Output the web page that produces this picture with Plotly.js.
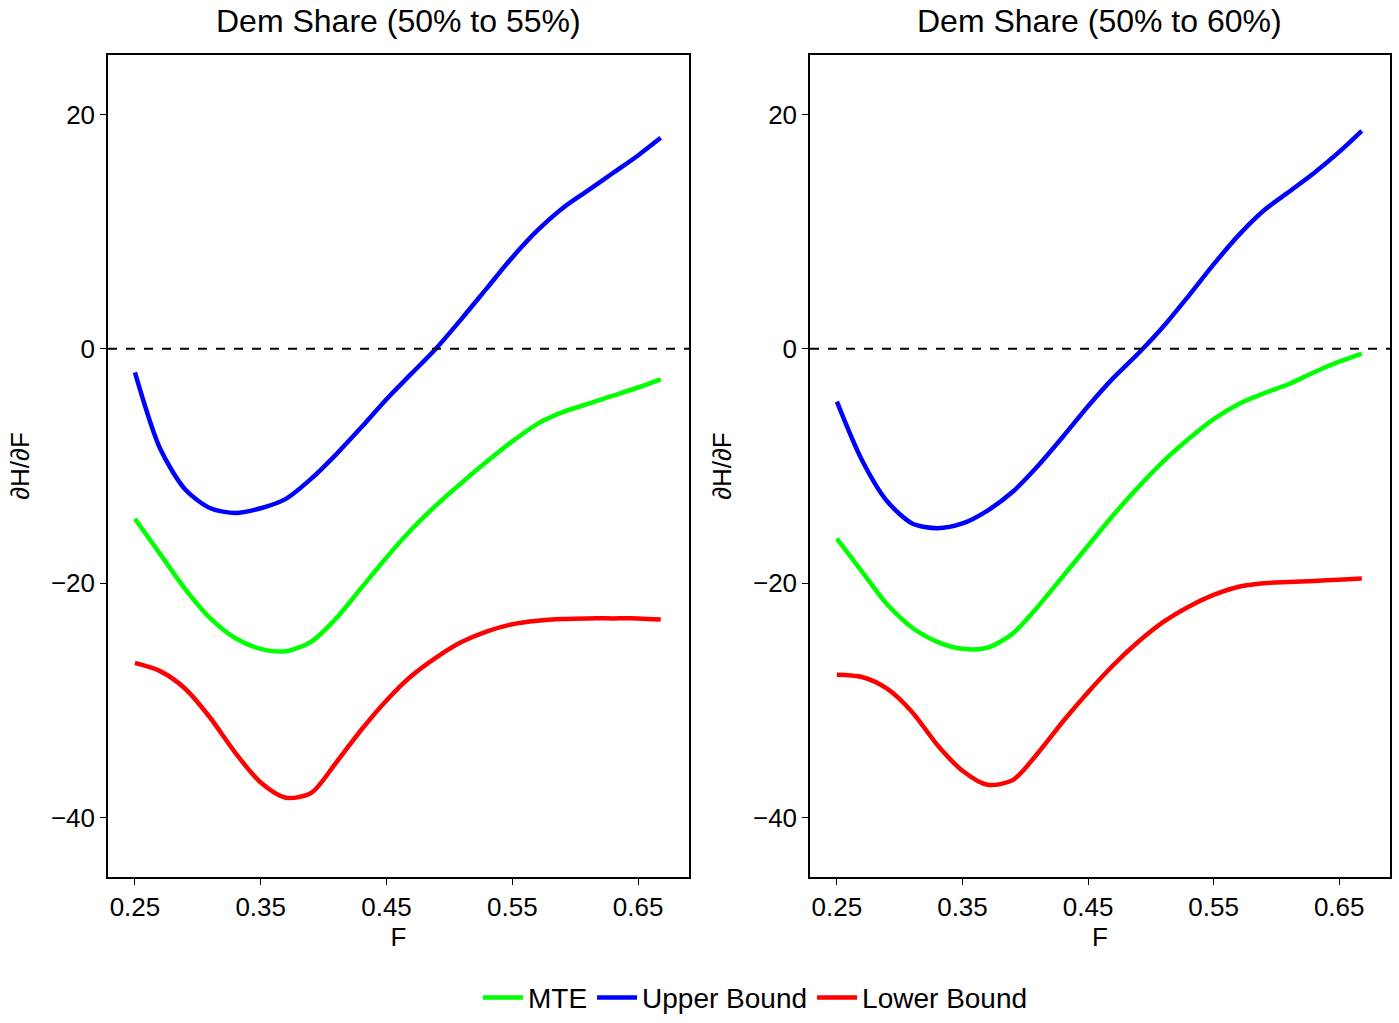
<!DOCTYPE html>
<html>
<head>
<meta charset="utf-8">
<script src="https://cdn.plot.ly/plotly-3.0.1.min.js"></script>
<style>body{margin:0;background:#fff}#chart{width:1399px;height:1023px}</style>
</head>
<body>
<div id="chart"></div>
<script>
var fValues = [0.25,0.27,0.29,0.31,0.33,0.35,0.37,0.39,0.41,0.43,0.45,0.47,0.49,0.51,0.53,0.55,0.57,0.59,0.61,0.63,0.65,0.668];

var mte55 = [-14.5,-17.5,-20.5,-23,-24.7,-25.6,-25.8,-25,-23,-20.4,-17.8,-15.4,-13.3,-11.4,-9.6,-7.9,-6.4,-5.4,-4.7,-4,-3.3,-2.6];
var upper55 = [-2,-8.5,-12,-13.6,-14,-13.6,-12.8,-11.1,-9,-6.7,-4.3,-2.1,0.1,2.6,5.2,7.8,10.1,12,13.5,15,16.5,18];
var lower55 = [-26.8,-27.5,-29,-31.5,-34.5,-37,-38.3,-37.9,-35.3,-32.5,-30,-27.9,-26.3,-25.0,-24.1,-23.5,-23.2,-23.05,-23,-23,-23,-23.1];

var mte60 = [-16.2,-19,-21.8,-23.8,-25,-25.6,-25.5,-24.3,-22,-19.4,-16.8,-14.2,-11.8,-9.6,-7.7,-6,-4.7,-3.8,-3,-2,-1.1,-0.4];
var upper60 = [-4.5,-9.5,-13,-14.9,-15.3,-14.9,-13.8,-12.2,-10,-7.5,-4.9,-2.5,-0.4,1.9,4.5,7.2,9.7,11.8,13.4,15,16.8,18.6];
var lower60 = [-27.8,-28,-29,-31,-33.8,-36,-37.2,-36.8,-34.5,-31.8,-29.3,-27,-25,-23.3,-22,-21,-20.3,-20,-19.9,-19.8,-19.7,-19.6];

var xTicks = [0.25,0.35,0.45,0.55,0.65];
var yTicks = [-40,-20,0,20];
var panelTitles = ["Dem Share (50% to 55%)", "Dem Share (50% to 60%)"];

var green = "#00ff00", blue = "#0000ff", red = "#ff0000";

function line(y, name, color, ax, show) {
    return { x: fValues, y: y, type: 'scatter', mode: 'lines', name: name, legendgroup: name,
        showlegend: show, xaxis: 'x' + ax, yaxis: 'y' + ax,
        line: { color: color, width: 4.5, shape: 'spline', smoothing: 0.8 } };
}

var data = [
    line(mte55, "MTE", green, '', true),
    line(upper55, "Upper Bound", blue, '', true),
    line(lower55, "Lower Bound", red, '', true),
    line(mte60, "MTE", green, '2', false),
    line(upper60, "Upper Bound", blue, '2', false),
    line(lower60, "Lower Bound", red, '2', false)
];

var tickFont = { size: 26, color: "black" };
function xaxis(dom, anchor) {
    return { domain: dom, anchor: anchor, range: [0.2286, 0.6905], tickvals: xTicks,
        ticktext: xTicks.map(function (v) { return v.toFixed(2); }),
        showgrid: false, zeroline: false, showline: true, mirror: true, linecolor: "black", linewidth: 1.5,
        ticks: "outside", ticklen: 6, tickcolor: "black", tickfont: tickFont,
        title: { text: "F", font: { size: 26, color: "black" }, standoff: 2 } };
}
function yaxis(anchor) {
    return { domain: [0.133, 0.946], anchor: anchor, range: [-45.1, 25.1], tickvals: yTicks,
        ticktext: yTicks.map(function (v) { return v < 0 ? "\u2212" + (-v) : String(v); }),
        showgrid: false, zeroline: false, showline: true, mirror: true, linecolor: "black", linewidth: 1.5,
        ticks: "outside", ticklen: 6, tickcolor: "black", tickfont: tickFont,
        title: { text: "\u2202H/\u2202F", font: { size: 26, color: "black" }, standoff: 14 } };
}

var layout = {
    width: 1399, height: 1023,
    margin: { l: 0, r: 0, t: 0, b: 0 },
    paper_bgcolor: "white", plot_bgcolor: "white",
    font: { family: "Liberation Sans, Arial", color: "black" },
    xaxis: xaxis([0.0772, 0.4925], 'y'),
    yaxis: yaxis('x'),
    xaxis2: xaxis([0.579, 0.9936], 'y2'),
    yaxis2: yaxis('x2'),
    shapes: [
        { type: 'line', xref: 'x domain', yref: 'y', x0: 0, x1: 1, y0: 0, y1: 0, line: { color: 'black', width: 2, dash: 'dash' } },
        { type: 'line', xref: 'x2 domain', yref: 'y2', x0: 0, x1: 1, y0: 0, y1: 0, line: { color: 'black', width: 2, dash: 'dash' } }
    ],
    annotations: [
        { text: panelTitles[0], xref: 'paper', yref: 'paper', x: 0.285, xanchor: 'center', y: 0.979, yanchor: 'middle', showarrow: false, font: { size: 32 } },
        { text: panelTitles[1], xref: 'paper', yref: 'paper', x: 0.786, xanchor: 'center', y: 0.979, yanchor: 'middle', showarrow: false, font: { size: 32 } }
    ],
    legend: { orientation: 'h', x: 0.54, xanchor: 'center', y: 0.014, yanchor: 'middle', font: { size: 28 },
        itemwidth: 40, entrywidth: 0, tracegroupgap: 0 }
};

Plotly.newPlot('chart', data, layout, { displayModeBar: false });
</script>
</body>
</html>
